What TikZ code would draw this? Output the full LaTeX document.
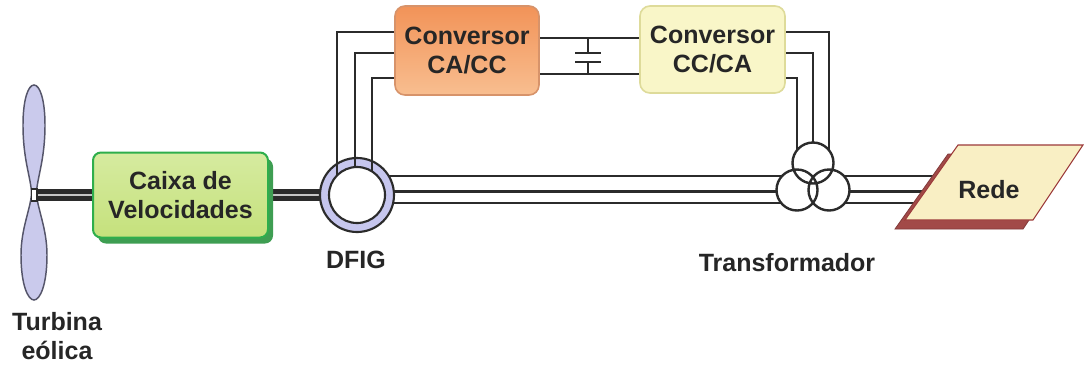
\documentclass[tikz,border=0pt]{standalone}
\usepackage{fontspec}
\setmainfont{Liberation Sans}
\usetikzlibrary{calc,shadows}

\definecolor{ink}{HTML}{2B2B2B}
\definecolor{txt}{HTML}{262626}
\definecolor{bladefill}{HTML}{CACAEC}
\definecolor{bladeline}{HTML}{55556A}
\definecolor{gbtop}{HTML}{D6EBA0}
\definecolor{gbbot}{HTML}{C5E17C}
\definecolor{gbline}{HTML}{2EAE4C}
\definecolor{gbshadow}{HTML}{3E9E52}
\definecolor{caTop}{HTML}{F29358}
\definecolor{caBot}{HTML}{F8BE90}
\definecolor{caLine}{HTML}{D7936A}
\definecolor{ccFill}{HTML}{F9F6C8}
\definecolor{ccLine}{HTML}{DEDB9A}
\definecolor{ringfill}{HTML}{C6C6EE}
\definecolor{gridfill}{HTML}{F9EFC4}
\definecolor{gridline}{HTML}{9C3A3A}
\definecolor{gridshadow}{HTML}{A24A48}

\pgfdeclarelayer{wires}
\pgfsetlayers{wires,main}

\begin{document}
\begin{tikzpicture}[x=0.75pt,y=-0.75pt,
  lbl/.style={font=\fontsize{18.75}{21.5}\selectfont\bfseries, text=txt, align=center, inner sep=0pt},
  wire/.style={draw=ink, line width=1.85pt},
  shaft/.style={draw=ink, line width=9.5pt},
  shaftcore/.style={draw=gray!45, line width=1.2pt},
  gearbox/.style={lbl, rectangle, rounded corners=6pt, draw=gbline, line width=1.5pt,
    top color=gbtop, bottom color=gbbot,
    minimum width=131.25pt, minimum height=63.75pt,
    general shadow={fill=gbshadow, shadow xshift=3.75pt, shadow yshift=-4.5pt}},
  convA/.style={lbl, rectangle, rounded corners=7.5pt, draw=caLine, line width=1.2pt,
    top color=caTop, bottom color=caBot,
    minimum width=108pt, minimum height=66.75pt},
  convB/.style={lbl, rectangle, rounded corners=7.5pt, draw=ccLine, line width=1.2pt,
    fill=ccFill, minimum width=108.75pt, minimum height=65.25pt},
  ring/.style={circle, draw=ink, line width=1.6pt, fill=ringfill, minimum size=55.5pt, inner sep=0pt},
  hole/.style={circle, draw=ink, line width=1.6pt, fill=white, minimum size=42pt, inner sep=0pt},
  tcirc/.style={circle, draw=ink, line width=1.8pt, minimum size=30.75pt, inner sep=0pt},
  blade/.style={fill=bladefill, draw=bladeline, line width=1.1pt},
  redebody/.style={fill=gridfill, draw=gridline, line width=0.8pt},
  redeshadow/.style={fill=gridshadow, draw=gridshadow!80!black, line width=0.6pt}
]
\useasboundingbox (0,0) rectangle (1084,365);

% ---------- blocks ----------
\node[gearbox] (gb) at (180.5,195) {Caixa de\\Velocidades};
\node[convA] (c1) at (467,50.5) {Conversor\\CA/CC};
\node[convB] (c2) at (712.5,49.5) {Conversor\\CC/CA};

% grid (parallelogram with extruded edge)
\path[redeshadow] (948,154) -- (1073,154) -- (1023,229) -- (895,229) -- cycle;
\path[redebody] (958,145) -- (1083,145) -- (1033,220) -- (905,220) -- cycle;
\node[lbl] (rede) at (989,190) {Rede};

% transformer windings
\node[tcirc] (tt) at (813,163) {};
\node[tcirc] (tl) at (797,190) {};
\node[tcirc] (tr) at (829,190) {};

% wind turbine rotor
\coordinate (hub) at (34,195);
\path[blade] (36.5,193) .. controls (37,178) and (45,160) .. (45,125)
  .. controls (45,100) and (40,85) .. (34,85)
  .. controls (28,85) and (23,100) .. (23,125)
  .. controls (23,160) and (31,178) .. (31.5,193)
  .. controls (31,208) and (21,228) .. (21,255)
  .. controls (21,285) and (28,300) .. (34,300)
  .. controls (40,300) and (47,285) .. (47,255)
  .. controls (47,228) and (37,208) .. (36.5,193) -- cycle;
\draw[draw=ink, fill=white, line width=0.9pt] ($(hub)+(-2.5,-6)$) rectangle ($(hub)+(3,6)$);

% DFIG: stator ring, rotor leads, rotor
\node[ring] (dfig) at (357,195) {};
\draw[wire] ($(dfig)+(-20,0)$) |- (c1.west |- 0,32);
\draw[wire] ($(dfig)+(-2,0)$)  |- (c1.west |- 0,53);
\draw[wire] ($(dfig)+(15,0)$)  |- (c1.west |- 0,78);
\node[hole] (dfigin) at (dfig) {};

% labels
\node[lbl] (turb) at (57,336) {Turbina\\eólica};
\node[lbl] (dfiglbl) at (356,260) {DFIG};
\node[lbl] (trlbl) at (787,263) {Transformador};

% ---------- wiring underneath ----------
\begin{pgfonlayer}{wires}
  \fill[white] (0,0) rectangle (1084,365);
  % mechanical shafts
  \draw[shaft] (hub) -- (gb.west);
  \draw[shaftcore] (hub) -- (gb.west);
  \draw[shaft] (gb.east) -- (dfig.center);
  \draw[shaftcore] (gb.east) -- (dfig.center);
  % stator to grid
  \foreach \yy in {176,191.5,203}
    \draw[wire] (dfig |- 0,\yy) -- (rede.west |- 0,\yy);
  % DC link with capacitor
  \draw[wire] (c1.east |- 0,38) -- (c2.west |- 0,38);
  \draw[wire] (c1.east |- 0,74) -- (c2.west |- 0,74);
  \coordinate (cap) at (588,57.5);
  \draw[wire] ($(cap)+(0,-19.5)$) -- ($(cap)+(0,-4.5)$);
  \draw[wire] ($(cap)+(-13,-4.5)$) -- ($(cap)+(13,-4.5)$);
  \draw[wire] ($(cap)+(-13,4.5)$) -- ($(cap)+(13,4.5)$);
  \draw[wire] ($(cap)+(0,4.5)$) -- ($(cap)+(0,16.5)$);
  % grid-side converter to transformer
  \draw[wire] (c2.east |- 0,32) -| ($(tt)+(16,0)$);
  \draw[wire] (c2.east |- 0,53) -| (tt.center);
  \draw[wire] (c2.east |- 0,78) -| ($(tt)+(-16,0)$);
  % transformer windings hide the wires inside them
  \fill[white] (tt) circle[radius=20.5];
  \fill[white] (tl) circle[radius=20.5];
  \fill[white] (tr) circle[radius=20.5];
\end{pgfonlayer}
\end{tikzpicture}
\end{document}
